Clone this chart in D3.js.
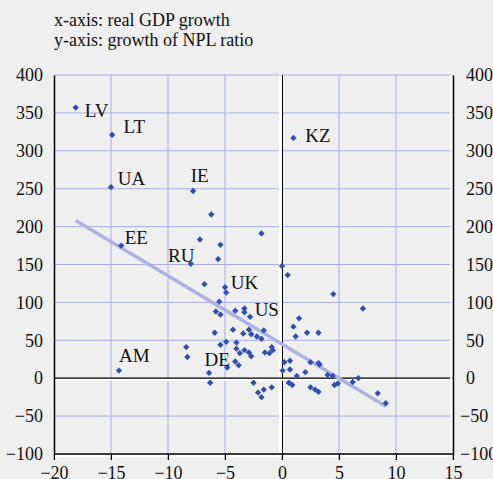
<!DOCTYPE html>
<html>
<head>
<meta charset="utf-8">
<script src="https://cdn.jsdelivr.net/npm/d3@7"></script>
<style>
  body { margin: 0; background: #efefef; }
  svg { display: block; font-family: "Liberation Serif", "Times New Roman", serif; }
</style>
</head>
<body>
<div id="chart"></div>
<script>
// Data: real GDP growth (x) vs growth of NPL ratio (y)
const gdpGrowth = [-18.1, -14.9, -15.0, -7.8, -6.2, -14.1, -7.2, -5.4, -8.0, -5.6,
  -1.8, 0.0, 0.5, -6.8, -5.0, -4.9, 4.5, -5.5, -5.8, -5.4,
  -4.1, -3.3, -3.3, -2.8, 1.5, 7.1, 1.0, 1.2, 2.2, 3.2,
  -5.9, -4.3, -3.4, -2.9, -2.7, -2.2, -1.8, -1.6, -5.4, -4.9,
  -4.0, -4.0, -3.3, -2.9, -3.7, -2.7, -0.9, -0.8, -1.5, -1.1,
  -8.4, -8.3, -4.1, -3.8, -4.8, -6.4, -6.3, -2.5, -2.1, -1.8,
  -1.6, -0.9, 0.2, 0.7, 0.05, 0.7, 1.3, 2.05, 2.5, 3.2,
  3.3, 4.0, 4.45, 0.6, 0.9, 2.5, 2.9, 3.2, 4.6, 4.9,
  6.2, 6.7, 8.4, 9.1, -14.3, 1.0];
const nplGrowth = [357, 321, 252, 247, 216, 175, 183, 176, 151, 157,
  191, 148, 136, 124, 120, 113, 111, 101, 88, 84,
  89, 92, 87, 81, 79, 92, 68, 55, 60, 60,
  60, 64, 59, 64, 58, 55, 52, 63, 44, 48,
  47, 39, 37, 34, 33, 29, 41, 37, 34, 33,
  41, 28, 22, 17, 14, 7, -6, -6, -19, -25,
  -15, -12, 21, 23, 10, 11.5, 3, 8, 21, 20,
  18, 4.5, 3, -6, -9, -12, -15, -18, -9, -7,
  -5, 0, -20, -33, 10, 317];

// Country labels (anchor = left edge / baseline, in data units)
const labelText = ["LV", "LT", "UA", "IE", "EE", "RU", "UK", "US", "DE", "AM", "KZ"];
const labelX = [-17.3, -13.9, -14.4, -8.0, -13.8, -10.0, -4.5, -2.4, -6.8, -14.3, 2.05];
const labelY = [345, 323, 255, 259, 177, 153, 118, 82, 16, 21, 311];

// Trend line end points
const trendX = [-18.1, 9.1];
const trendY = [208, -37];

// Axis ticks
const xTicks = [-20, -15, -10, -5, 0, 5, 10, 15];
const yTicks = [400, 350, 300, 250, 200, 150, 100, 50, 0, -50, -100];

const titleLines = ["x-axis: real GDP growth", "y-axis: growth of NPL ratio"];

// Setup layout
const svgWidth = 493;
const svgHeight = 479;
const plot = { left: 54, right: 453, top: 75, bottom: 454 };

const svg = d3.select("#chart")
  .append("svg")
  .attr("width", svgWidth)
  .attr("height", svgHeight);

svg.append("rect")
  .attr("width", svgWidth)
  .attr("height", svgHeight)
  .attr("fill", "#efefef");

const x = d3.scaleLinear().domain([-20, 15]).range([plot.left, plot.right]);
const y = d3.scaleLinear().domain([-100, 400]).range([plot.bottom, plot.top]);

const gridColor = "#a9afe6";

// gridlines
svg.append("g").selectAll("line")
  .data(xTicks.filter(d => d !== -20 && d !== 15 && d !== 0))
  .enter().append("line")
  .attr("x1", d => x(d)).attr("x2", d => x(d))
  .attr("y1", plot.top).attr("y2", plot.bottom)
  .attr("stroke", gridColor).attr("stroke-width", 1);

svg.append("g").selectAll("line")
  .data(yTicks.filter(d => d !== -100 && d !== 0))
  .enter().append("line")
  .attr("x1", plot.left).attr("x2", plot.right)
  .attr("y1", d => y(d)).attr("y2", d => y(d))
  .attr("stroke", gridColor).attr("stroke-width", 1);

// zero lines with white shadow
svg.append("line")
  .attr("x1", x(0) - 1.5).attr("x2", x(0) - 1.5)
  .attr("y1", plot.top).attr("y2", plot.bottom)
  .attr("stroke", "#fff").attr("stroke-width", 3);
svg.append("line")
  .attr("x1", x(0) + 0.5).attr("x2", x(0) + 0.5)
  .attr("y1", plot.top).attr("y2", plot.bottom)
  .attr("stroke", "#000").attr("stroke-width", 1);
svg.append("line")
  .attr("x1", plot.left).attr("x2", plot.right)
  .attr("y1", y(0) + 1.5).attr("y2", y(0) + 1.5)
  .attr("stroke", "#fff").attr("stroke-width", 2);
svg.append("line")
  .attr("x1", plot.left).attr("x2", plot.right)
  .attr("y1", y(0)).attr("y2", y(0))
  .attr("stroke", "#000").attr("stroke-width", 1.2);

// trend line
svg.append("line")
  .attr("x1", x(trendX[0])).attr("y1", y(trendY[0]))
  .attr("x2", x(trendX[1])).attr("y2", y(trendY[1]))
  .attr("stroke", "#adb1e3").attr("stroke-width", 3.5);

// points
const pts = gdpGrowth.map((g, i) => ({ g: g, n: nplGrowth[i] }));
const diamond = d3.symbol().type(d3.symbolSquare).size(20);
svg.append("g").selectAll("path")
  .data(pts)
  .enter().append("path")
  .attr("d", diamond)
  .attr("transform", d => `translate(${x(d.g)},${y(d.n)}) rotate(45)`)
  .attr("fill", "#2f4fb4");

// labels
svg.append("g").selectAll("text")
  .data(labelText)
  .enter().append("text")
  .attr("x", (d, i) => x(labelX[i]))
  .attr("y", (d, i) => y(labelY[i]))
  .attr("font-size", 19)
  .attr("fill", "#111")
  .text(d => d);

// axes
const bottomAxis = d3.axisBottom(x).tickValues(xTicks).tickSize(6).tickPadding(6);
const leftAxis = d3.axisLeft(y).tickValues(yTicks).tickSize(0).tickPadding(11);
const rightAxis = d3.axisRight(y).tickValues(yTicks).tickSize(0).tickPadding(13);

// white shadows for frame lines
svg.append("line")
  .attr("x1", plot.right - 2).attr("x2", plot.right - 2)
  .attr("y1", plot.top).attr("y2", plot.bottom)
  .attr("stroke", "#fff").attr("stroke-width", 2);
svg.append("line")
  .attr("x1", plot.left).attr("x2", plot.right)
  .attr("y1", plot.bottom + 2).attr("y2", plot.bottom + 2)
  .attr("stroke", "#fff").attr("stroke-width", 2);

const gx = svg.append("g")
  .attr("transform", `translate(0,${plot.bottom})`)
  .call(bottomAxis);
gx.selectAll(".tick").append("line")
  .attr("x1", 1.5).attr("x2", 1.5).attr("y1", 1).attr("y2", 6)
  .attr("stroke", "#fff").attr("stroke-width", 1.5);

const gl = svg.append("g")
  .attr("transform", `translate(${plot.left},0)`)
  .call(leftAxis);

const gr = svg.append("g")
  .attr("transform", `translate(${plot.right},0)`)
  .call(rightAxis);
gr.selectAll(".tick text").attr("dx", d => d < 0 ? -6 : 0);

[gx, gl, gr].forEach(g => {
  g.select(".domain").attr("stroke", "#000").attr("stroke-width", 1.5);
  g.selectAll(".tick line").filter(function () { return d3.select(this).attr("stroke") !== "#fff"; })
    .attr("stroke", "#000").attr("stroke-width", 1.5);
  g.selectAll("text")
    .attr("font-family", "Liberation Serif, serif")
    .attr("font-size", 18)
    .attr("fill", "#111");
});
gx.select(".domain").attr("d", `M${plot.left},0H${plot.right}`);
gx.selectAll(".tick text").attr("dy", "0.71em");

// title
svg.append("g").selectAll("text")
  .data(titleLines)
  .enter().append("text")
  .attr("x", plot.left)
  .attr("y", (d, i) => 26 + i * 20)
  .attr("font-size", 18)
  .attr("fill", "#111")
  .text(d => d);
</script>
</body>
</html>
